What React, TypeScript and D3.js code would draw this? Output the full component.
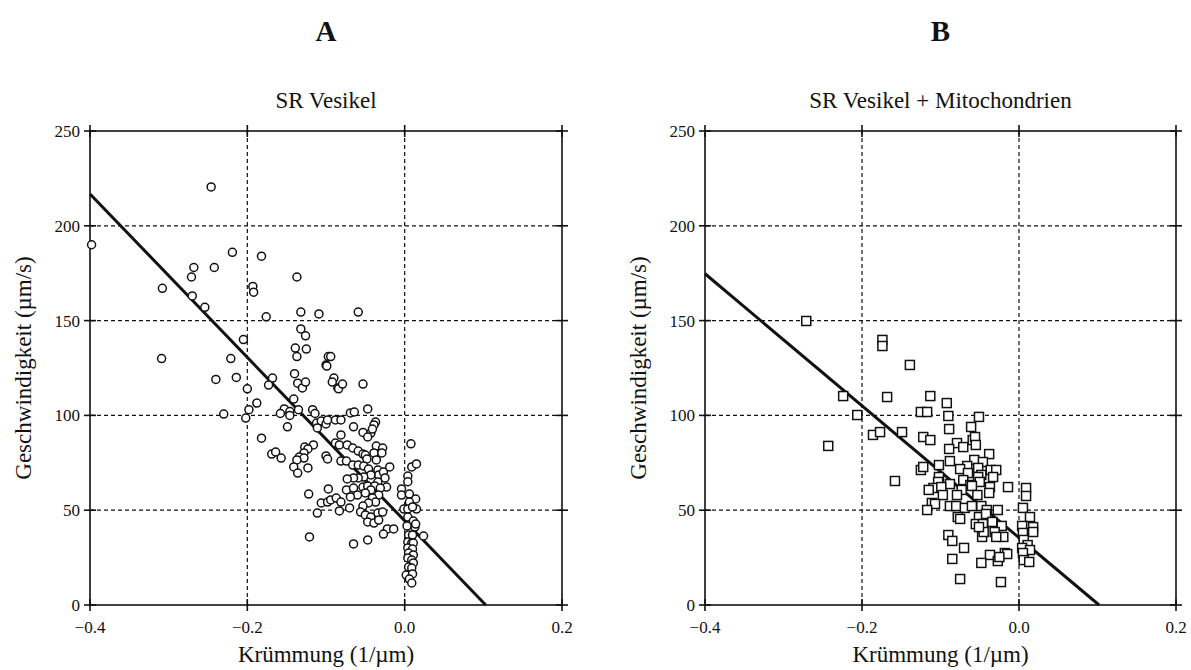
import React from "react";
import * as d3 from "d3";

// Axis ticks shared by both panels
const xTicks = [-0.4, -0.2, 0.0, 0.2];
const yTicks = [0, 50, 100, 150, 200, 250];
const xGrid = [-0.2, 0.0];
const yGrid = [50, 100, 150, 200];

// Panel A: SR vesicles — [curvature (1/µm), velocity (µm/s)]
const vesikelPoints: [number, number][] = [
  [-0.246, 220.5], [-0.398, 190], [-0.219, 186], [-0.182, 184], [-0.268, 178], [-0.242, 178],
  [-0.271, 173], [-0.308, 167], [-0.193, 168], [-0.192, 165], [-0.137, 173], [-0.27, 163],
  [-0.254, 157], [-0.176, 152], [-0.132, 154.5], [-0.109, 153.5], [-0.132, 145.6], [-0.126, 142],
  [-0.205, 140], [-0.139, 135.5], [-0.125, 135], [-0.137, 131], [-0.309, 130], [-0.221, 130],
  [-0.1, 126.6], [-0.097, 131], [-0.094, 131], [-0.099, 126], [-0.059, 154.5],
  [-0.24, 119], [-0.214, 120], [-0.2, 114], [-0.198, 103], [-0.188, 106.5], [-0.202, 98.6],
  [-0.23, 100.7], [-0.182, 88], [-0.168, 119.7], [-0.173, 116], [-0.14, 122], [-0.136, 117],
  [-0.13, 114.5], [-0.126, 117.6], [-0.141, 108.6], [-0.153, 103.4], [-0.158, 101], [-0.146, 102],
  [-0.146, 100], [-0.135, 103], [-0.149, 94], [-0.117, 103], [-0.114, 101], [-0.112, 96],
  [-0.106, 97], [-0.1, 95.5], [-0.111, 93.4], [-0.098, 97.6], [-0.116, 84.4], [-0.127, 83.3],
  [-0.123, 82.3], [-0.128, 80.2], [-0.134, 78], [-0.128, 77.5], [-0.137, 76.5], [-0.141, 72.8],
  [-0.136, 69.6], [-0.123, 72.3], [-0.169, 79.6], [-0.164, 80.7], [-0.157, 77.5], [-0.1, 78.6],
  [-0.122, 58.5], [-0.106, 53.8], [-0.098, 54.3], [-0.111, 48.5], [-0.121, 35.9],
  [-0.09, 119.7], [-0.092, 117.6], [-0.085, 114.5], [-0.088, 97.6], [-0.084, 114],
  [-0.079, 116.5], [-0.053, 116.5], [-0.081, 97.6], [-0.069, 101.3], [-0.064, 101.8], [-0.047, 103.4],
  [-0.037, 96.5], [-0.039, 95], [-0.065, 94], [-0.053, 91], [-0.043, 90.7], [-0.041, 92.8],
  [-0.081, 89.7], [-0.047, 88.6], [-0.088, 85.4], [-0.083, 84.4], [-0.098, 77],
  [-0.073, 84.4], [-0.066, 82.8], [-0.059, 81.2], [-0.053, 79.6], [-0.05, 79.1], [-0.048, 77],
  [-0.036, 83.8], [-0.028, 82.8], [-0.039, 80.2], [-0.036, 76.5], [-0.029, 80.2],
  [-0.081, 75.9], [-0.074, 75.9], [-0.066, 73.8], [-0.059, 73.8], [-0.052, 73.3], [-0.046, 71.7],
  [-0.034, 71.2], [-0.033, 68.6], [-0.043, 68.6], [-0.052, 67.5], [-0.059, 67], [-0.065, 67],
  [-0.073, 66.5], [-0.027, 70.1], [-0.019, 72.8], [-0.025, 67], [-0.034, 64.9], [-0.023, 62.2],
  [-0.074, 60.7], [-0.065, 61.7], [-0.053, 62.2], [-0.047, 62.8], [-0.038, 62.8], [-0.031, 61.7],
  [-0.043, 60.7], [-0.05, 59.1], [-0.06, 58], [-0.069, 57], [-0.033, 58], [-0.041, 56.4],
  [-0.037, 54.3], [-0.046, 53.8], [-0.053, 52.2], [-0.056, 49], [-0.05, 47.5], [-0.043, 46.4],
  [-0.034, 48.5], [-0.028, 49], [-0.047, 43.8], [-0.039, 43.2], [-0.033, 44.8], [-0.022, 40.1],
  [-0.014, 40.1], [-0.027, 37.4], [-0.004, 61.2], [-0.004, 58],
  [-0.097, 61.2], [-0.094, 55.4], [-0.087, 56.4], [-0.081, 54.3], [-0.083, 49.6], [-0.07, 51.2],
  [-0.065, 32.2], [-0.047, 34.3],
  [0.008, 85], [0.009, 72.8], [0.015, 74.4], [0.004, 68],
  [0.004, 65], [0.006, 58.5], [0.014, 55.9], [0.006, 54.3], [-0.001, 50.6], [0.004, 50.6],
  [0.015, 50.6], [0.01, 51.7], [0.004, 46.4], [0.011, 44.3], [0.013, 41.1], [0.014, 42.7],
  [0.024, 36.4], [0.003, 41.7], [0.005, 36.9], [0.01, 36.9], [0.004, 33.2], [0.009, 32.7],
  [0.011, 32.7], [0.004, 30.1], [0.01, 29.5], [0.005, 27.4], [0.011, 26.4], [0.004, 24.8],
  [0.009, 23.7], [0.011, 22.2], [0.005, 20], [0.009, 19.5], [0.002, 15.8], [0.01, 16.4],
  [0.006, 13.7], [0.009, 11.6],
];

// Panel B: SR vesicles + mitochondria
const mitoPoints: [number, number][] = [
  [-0.271, 149.8], [-0.174, 139.8], [-0.174, 136.6], [-0.139, 126.6], [-0.224, 110.2], [-0.168, 109.7],
  [-0.206, 100.2], [-0.186, 89.7], [-0.177, 91.2], [-0.149, 91.2], [-0.243, 83.9],
  [-0.113, 110.2], [-0.092, 106.5], [-0.125, 101.8], [-0.117, 101.8], [-0.09, 99.7], [-0.051, 99.2],
  [-0.089, 92.8], [-0.061, 93.9], [-0.122, 88.6], [-0.113, 87], [-0.059, 87], [-0.056, 88.6],
  [-0.055, 84.4], [-0.079, 85.4], [-0.071, 83.3], [-0.089, 82.3], [-0.038, 79.6],
  [-0.088, 75.9], [-0.102, 73.8], [-0.057, 76.5], [-0.046, 75.4], [-0.066, 73.3], [-0.075, 71.7],
  [-0.052, 72.3], [-0.036, 71.2], [-0.029, 71.2], [-0.033, 67.5], [-0.048, 68.6], [-0.125, 71.2],
  [-0.122, 72.8], [-0.102, 67.5], [-0.103, 64.9], [-0.052, 67.5], [-0.065, 69.6], [-0.05, 64.9],
  [-0.071, 65.9], [-0.088, 63.8], [-0.109, 61.7], [-0.115, 60.7], [-0.099, 62.2], [-0.062, 63.3],
  [-0.06, 62.8], [-0.037, 62.2], [-0.038, 59.1], [-0.053, 58], [-0.073, 60.7], [-0.079, 58],
  [-0.097, 58], [-0.111, 53.8], [-0.107, 53.3], [-0.117, 50.1],
  [-0.158, 65.4], [-0.014, 62.2], [0.009, 61.7], [0.009, 57.5],
  [-0.088, 52.2], [-0.08, 52.2], [-0.069, 51.2], [-0.06, 52.2], [-0.048, 52.2], [-0.041, 50.1],
  [-0.027, 50.1], [0.005, 51.2], [-0.078, 46.4], [-0.075, 45.4], [-0.051, 46.4], [-0.042, 48],
  [-0.055, 42.7], [-0.046, 42.7], [-0.034, 43.8], [-0.022, 41.7], [-0.031, 38.5], [-0.02, 35.9],
  [-0.029, 35.9], [-0.047, 35.9], [-0.045, 38.5], [-0.051, 41.1],
  [0.014, 46.4], [0.018, 41.1], [0.018, 38.5], [0.004, 41.7], [0.005, 38], [0.006, 34.3],
  [0.011, 31.6], [0.004, 30.1], [0.014, 29], [0.005, 27.4], [0.006, 23.7], [0.013, 22.7],
  [-0.09, 36.9], [-0.085, 33.8], [-0.07, 30.1], [-0.085, 24.3], [-0.037, 26.4], [-0.027, 23.2],
  [-0.018, 27.4], [-0.015, 26.9], [-0.025, 25.3], [-0.048, 22.2], [-0.075, 13.7], [-0.023, 12.1],
];

// Linear fits: velocity = intercept + slope * curvature
const fitVesikel = { intercept: 44.4, slope: -431 };
const fitMito = { intercept: 35.5, slope: -348 };

const FONT = "'Liberation Serif', 'Times New Roman', serif";

type PanelProps = {
  x0: number;
  x1: number;
  letter: string;
  title: string;
  points: [number, number][];
  marker: "circle" | "square";
  fit: { intercept: number; slope: number };
};

const TOP = 131;
const BOTTOM = 605;
const TICK = 6;

function Panel({ x0, x1, letter, title, points, marker, fit }: PanelProps) {
  const x = d3.scaleLinear().domain([-0.4, 0.2]).range([x0, x1]);
  const y = d3.scaleLinear().domain([0, 250]).range([BOTTOM, TOP]);
  const cx = (x0 + x1) / 2;
  const xEnd = -fit.intercept / fit.slope;
  const line = d3
    .line<number>()
    .x((d) => x(d))
    .y((d) => y(fit.intercept + fit.slope * d));

  return (
    <g>
      <text x={cx} y={41} textAnchor="middle" fontFamily={FONT} fontWeight="bold" fontSize={29} fill="#111">
        {letter}
      </text>
      <text x={cx} y={108} textAnchor="middle" fontFamily={FONT} fontSize={23} fill="#111">
        {title}
      </text>

      {/* dashed grid */}
      {xGrid.map((v) => (
        <line key={"gx" + v} x1={x(v)} x2={x(v)} y1={TOP} y2={BOTTOM} stroke="#111" strokeWidth={1.2} strokeDasharray="4,3" />
      ))}
      {yGrid.map((v) => (
        <line key={"gy" + v} x1={x0} x2={x1} y1={y(v)} y2={y(v)} stroke="#111" strokeWidth={1.2} strokeDasharray="4,3" />
      ))}

      {/* frame */}
      <rect x={x0} y={TOP} width={x1 - x0} height={BOTTOM - TOP} fill="none" stroke="#111" strokeWidth={1.6} />

      {/* crossing tick marks on all sides */}
      {xTicks.map((v) => (
        <g key={"tx" + v}>
          <line x1={x(v)} x2={x(v)} y1={BOTTOM - TICK} y2={BOTTOM + TICK} stroke="#111" strokeWidth={1.6} />
          <line x1={x(v)} x2={x(v)} y1={TOP - TICK} y2={TOP + TICK} stroke="#111" strokeWidth={1.6} />
          <text x={x(v)} y={BOTTOM + 28} textAnchor="middle" fontFamily={FONT} fontSize={17} fill="#111">
            {d3.format(".1f")(v)}
          </text>
        </g>
      ))}
      {yTicks.map((v) => (
        <g key={"ty" + v}>
          <line x1={x0 - TICK} x2={x0 + TICK} y1={y(v)} y2={y(v)} stroke="#111" strokeWidth={1.6} />
          <line x1={x1 - TICK} x2={x1 + TICK} y1={y(v)} y2={y(v)} stroke="#111" strokeWidth={1.6} />
          <text x={x0 - 10} y={y(v)} dy="0.35em" textAnchor="end" fontFamily={FONT} fontSize={17} fill="#111">
            {v}
          </text>
        </g>
      ))}

      {/* regression line */}
      <path d={line([-0.4, xEnd]) || ""} fill="none" stroke="#111" strokeWidth={3} />

      {/* data points */}
      {points.map(([px, py], i) =>
        marker === "circle" ? (
          <circle key={i} cx={x(px)} cy={y(py)} r={4} fill="#fff" stroke="#111" strokeWidth={1.5} />
        ) : (
          <rect key={i} x={x(px) - 4.5} y={y(py) - 4.5} width={9} height={9} fill="#fff" stroke="#111" strokeWidth={1.5} />
        )
      )}

      {/* axis titles */}
      <text x={cx} y={662} textAnchor="middle" fontFamily={FONT} fontSize={23} fill="#111">
        Krümmung (1/µm)
      </text>
      <text
        transform={`translate(${x0 - 59},${(TOP + BOTTOM) / 2}) rotate(-90)`}
        textAnchor="middle"
        fontFamily={FONT}
        fontSize={23}
        fill="#111"
      >
        Geschwindigkeit (µm/s)
      </text>
    </g>
  );
}

export default function App() {
  return (
    <svg
      width={1191}
      height={670}
      style={{ position: "absolute", left: 0, top: 0, background: "#fff" }}
    >
      <rect width={1191} height={670} fill="#fff" />
      <Panel x0={90} x1={562} letter="A" title="SR Vesikel" points={vesikelPoints} marker="circle" fit={fitVesikel} />
      <Panel x0={705} x1={1176} letter="B" title="SR Vesikel + Mitochondrien" points={mitoPoints} marker="square" fit={fitMito} />
    </svg>
  );
}
